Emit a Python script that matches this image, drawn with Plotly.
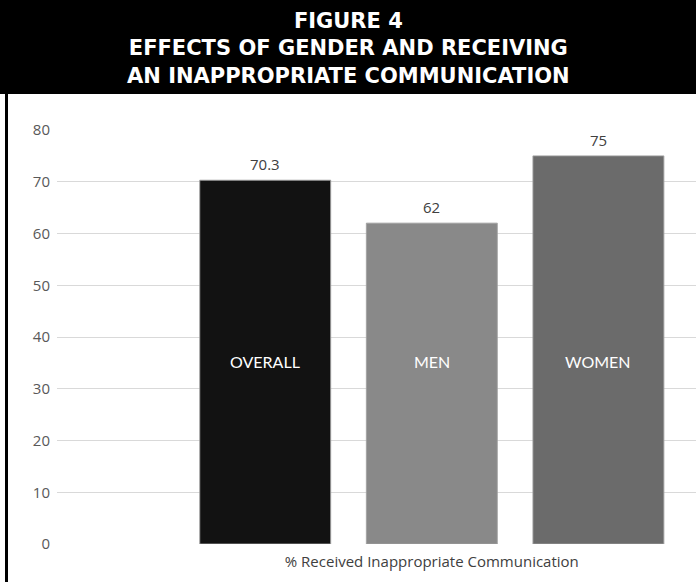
import plotly.graph_objects as go

# Survey result: share who received an inappropriate communication
category = ["% Received Inappropriate Communication"]
groups = ["OVERALL", "MEN", "WOMEN"]
values = [70.3, 62, 75]
value_labels = ["70.3", "62", "75"]
bar_colors = ["#121212", "#898989", "#6b6b6b"]
y_ticks = [0, 10, 20, 30, 40, 50, 60, 70, 80]

title_lines = ["FIGURE 4", "EFFECTS OF GENDER AND RECEIVING", "AN INAPPROPRIATE COMMUNICATION"]

W, H = 696, 582
M_L, M_R, M_T, M_B = 57, 0, 130, 38
PLOT_W = W - M_L - M_R
PLOT_H = H - M_T - M_B
HEADER_BOTTOM = 94
BARGAP = 1 / 3
GROUPGAP = 0.214

fig = go.Figure()
for name, val, col in zip(groups, values, bar_colors):
    fig.add_trace(go.Bar(
        x=category, y=[val], name=name,
        marker=dict(color=col, line=dict(color="rgba(160,160,160,0.9)", width=1)),
    ))

# per-bar offsets inside the single category group
n = len(groups)
slot = (1 - BARGAP) / n
offsets = [(i - (n - 1) / 2) * slot for i in range(n)]

for off, name, val, lab in zip(offsets, groups, values, value_labels):
    # value label above the bar
    fig.add_annotation(
        x=off, y=val, xref="x", yref="y", text=lab, showarrow=False,
        yanchor="bottom", yshift=4,
        font=dict(family="Open Sans", size=15, color="#404040"),
    )
    # group name written inside the bar at a common height
    fig.add_annotation(
        x=off, y=35.2, xref="x", yref="y", text=name, showarrow=False,
        font=dict(family="Lato", size=16, color="white"),
    )

def py(px):
    """pixel row -> paper y"""
    return (H - M_B - px) / PLOT_H

def px_x(px):
    """pixel column -> paper x"""
    return (px - M_L) / PLOT_W

# black header band
fig.add_shape(type="rect", xref="paper", yref="paper",
              x0=px_x(0), x1=px_x(W), y0=py(HEADER_BOTTOM), y1=py(0),
              fillcolor="black", line=dict(width=0), layer="above")
# left frame rule
fig.add_shape(type="line", xref="paper", yref="paper",
              x0=px_x(6.5), x1=px_x(6.5), y0=py(H), y1=py(HEADER_BOTTOM),
              line=dict(color="black", width=3))

fig.add_annotation(
    xref="paper", yref="paper", x=px_x(W / 2), y=py(48.5),
    text="<br>".join(title_lines), showarrow=False,
    font=dict(family="DejaVu Sans", size=21, color="white", weight="bold"),
    align="center", xanchor="center", yanchor="middle",
)

fig.update_layout(
    width=W, height=H,
    margin=dict(l=M_L, r=M_R, t=M_T, b=M_B),
    barmode="group", bargap=BARGAP, bargroupgap=GROUPGAP,
    showlegend=False,
    paper_bgcolor="white", plot_bgcolor="white",
    xaxis=dict(type="category", range=[-0.5, 0.3524], showgrid=False,
               zeroline=False, showline=False, ticks="", ticklabelstandoff=7,
               tickfont=dict(family="Open Sans", size=15, color="#404040")),
    yaxis=dict(range=[0, 80], tickvals=y_ticks, showgrid=True,
               gridcolor="#d9d9d9", gridwidth=1, zeroline=False,
               showline=False, ticks="", ticklabelstandoff=6,
               tickfont=dict(family="Open Sans", size=15, color="#595959")),
)

fig.write_html("out.html")
